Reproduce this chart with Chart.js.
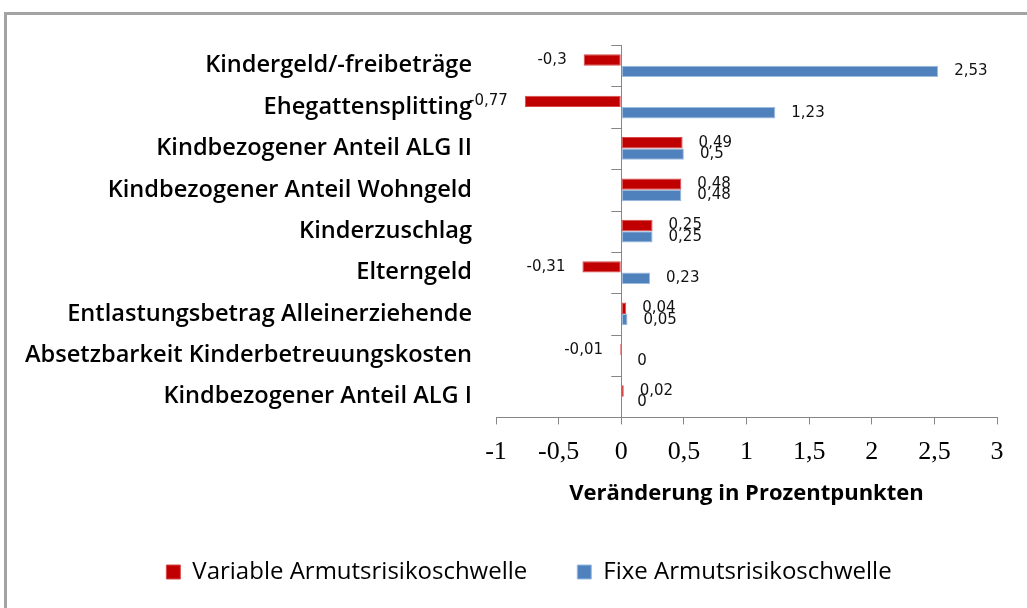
<!DOCTYPE html>
<html>
<head>
<meta charset="utf-8">
<script src="https://cdn.jsdelivr.net/npm/chart.js@4"></script>
<style>
  body { margin: 0; background: #fff; }
  #frame {
    position: absolute; left: 4px; top: 12px; width: 1100px; height: 700px;
    border-top: 3px solid #a3a3a3; border-left: 3px solid #a3a3a3;
  }
  #chart { position: absolute; left: 0; top: 0; }
</style>
</head>
<body>
<div id="frame"></div>
<canvas id="chart" width="1027" height="608"></canvas>
<script>
/* chart data */
const categories = [
  "Kindergeld/-freibeträge",
  "Ehegattensplitting",
  "Kindbezogener Anteil ALG II",
  "Kindbezogener Anteil Wohngeld",
  "Kinderzuschlag",
  "Elterngeld",
  "Entlastungsbetrag Alleinerziehende",
  "Absetzbarkeit Kinderbetreuungskosten",
  "Kindbezogener Anteil ALG I"
];
const variableValues = [-0.3, -0.77, 0.49, 0.48, 0.25, -0.31, 0.04, -0.01, 0.02];
const fixeValues = [2.53, 1.23, 0.5, 0.48, 0.25, 0.23, 0.05, 0, 0];
const seriesNames = ["Variable Armutsrisikoschwelle", "Fixe Armutsrisikoschwelle"];
const axisTitle = "Veränderung in Prozentpunkten";

const AXIS = "#868686";
const PAD_LEFT = 15;
const fmt = v => String(v).replace(".", ",");

/* value labels next to each bar */
const barLabels = {
  id: "barLabels",
  afterDatasetsDraw(chart) {
    const ctx = chart.ctx;
    ctx.save();
    ctx.font = '15px "DejaVu Sans"';
    ctx.fillStyle = "#111";
    ctx.textBaseline = "middle";
    chart.data.datasets.forEach((ds, i) => {
      chart.getDatasetMeta(i).data.forEach((bar, j) => {
        const v = ds.data[j];
        if (v < 0) {
          ctx.textAlign = "right";
          ctx.fillText(fmt(v), bar.x - 17, bar.y);
        } else {
          ctx.textAlign = "left";
          ctx.fillText(fmt(v), bar.x + 16, bar.y);
        }
      });
    });
    ctx.restore();
  }
};

/* small tick marks on the category axis at x = 0 */
const zeroAxisTicks = {
  id: "zeroAxisTicks",
  afterDraw(chart) {
    const x0 = chart.scales.x.getPixelForValue(0);
    const ys = chart.scales.y;
    const n = categories.length;
    const ctx = chart.ctx;
    ctx.save();
    ctx.strokeStyle = AXIS;
    ctx.lineWidth = 1;
    for (let i = 0; i <= n; i++) {
      const y = Math.round(ys.top + i * ys.height / n) + 0.5;
      ctx.beginPath();
      ctx.moveTo(x0 - 10, y);
      ctx.lineTo(x0, y);
      ctx.stroke();
    }
    ctx.restore();
  }
};

/* legend sits a bit right of the canvas centre, like the original */
const legendShift = {
  id: "legendShift",
  afterLayout(chart) {
    chart.legend.left += 23;
    chart.legend.right += 23;
  }
};

new Chart(document.getElementById("chart"), {
  type: "bar",
  data: {
    labels: categories,
    datasets: [
      {
        label: seriesNames[0],
        data: variableValues,
        backgroundColor: "#c00000",
        borderColor: "#d84a4a",
        borderWidth: 1,
        borderSkipped: false
      },
      {
        label: seriesNames[1],
        data: fixeValues,
        backgroundColor: "#4f81bd",
        borderColor: "#9bbbe0",
        borderWidth: 1,
        borderSkipped: false
      }
    ]
  },
  options: {
    indexAxis: "y",
    responsive: false,
    animation: false,
    datasets: {
      bar: { categoryPercentage: 0.55, barPercentage: 1.0 }
    },
    layout: { padding: { left: PAD_LEFT, right: 30, top: 45, bottom: 14 } },
    scales: {
      x: {
        min: -1,
        max: 3,
        ticks: {
          stepSize: 0.5,
          padding: 12,
          color: "#000",
          font: { family: "Liberation Serif", size: 26 },
          callback: v => fmt(v)
        },
        grid: {
          color: c => (c.tick && c.tick.value === 0 ? AXIS : "transparent"),
          tickColor: AXIS,
          tickLength: 7,
          lineWidth: 1
        },
        border: { display: true, color: AXIS },
        title: {
          display: true,
          text: axisTitle,
          color: "#000",
          font: { family: "Open Sans", size: 22, weight: "bold" },
          padding: { top: 1, bottom: 3 }
        }
      },
      y: {
        afterFit: s => { s.width = 496 - PAD_LEFT; },
        ticks: {
          padding: 24,
          color: "#000",
          font: { family: "Open Sans", size: 23.6, weight: "600" }
        },
        grid: { display: false, drawTicks: false },
        border: { display: false }
      }
    },
    plugins: {
      legend: {
        position: "bottom",
        labels: {
          boxWidth: 14,
          boxHeight: 14,
          padding: 50,
          color: "#000",
          font: { family: "Open Sans", size: 24 }
        }
      },
      tooltip: { enabled: false }
    }
  },
  plugins: [barLabels, zeroAxisTicks, legendShift]
});
</script>
</body>
</html>
